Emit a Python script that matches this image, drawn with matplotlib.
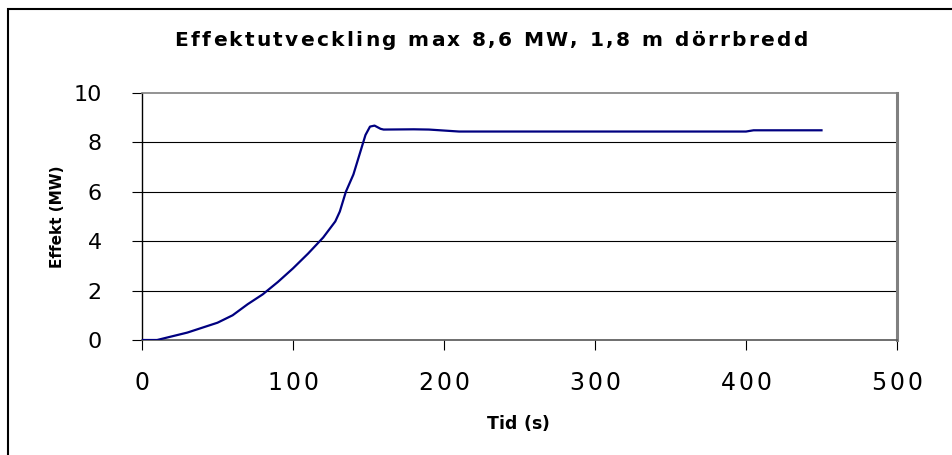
import matplotlib
matplotlib.use("Agg")
import matplotlib.pyplot as plt
from matplotlib.patches import Rectangle
from matplotlib import font_manager
from matplotlib.ft2font import FT2Font

tid = [0, 10, 20, 30, 40, 50, 60, 70, 80, 90, 100, 110, 120, 128, 131, 135,
       140, 145, 148, 151, 154, 158, 160, 180, 190, 210, 400, 405, 450]
effekt = [0, 0, 0.15, 0.3, 0.5, 0.7, 1.0, 1.45, 1.85, 2.35, 2.9, 3.5, 4.15,
          4.8, 5.2, 6.0, 6.7, 7.7, 8.3, 8.64, 8.68, 8.55, 8.52, 8.53, 8.52,
          8.44, 8.44, 8.49, 8.49]
xticks = [0, 100, 200, 300, 400, 500]
yticks = [0, 2, 4, 6, 8, 10]

title = "Effektutveckling max 8,6 MW, 1,8 m dörrbredd"
xlabel = "Tid (s)"
ylabel = "Effekt (MW)"

W, H = 953, 455
DPI = 100
FAMILY = "DejaVu Sans"
fig = plt.figure(figsize=(W / DPI, H / DPI), dpi=DPI)
fig.patch.set_facecolor("white")


def advances(s, size, weight):
    path = font_manager.findfont(font_manager.FontProperties(family=FAMILY, weight=weight))
    f = FT2Font(path)
    f.set_size(size, DPI)
    return [f.load_char(ord(c)).linearHoriAdvance / 65536.0 for c in s]


def spaced_text(xc, y, s, size, weight, spacing=None, width=None):
    """Draw text centred at pixel (xc, y from top) with extra letter spacing."""
    adv = advances(s, size, weight)
    if width is not None:
        spacing = (width - sum(adv)) / (len(s) - 1)
    total = sum(adv) + spacing * (len(s) - 1)
    x = xc - total / 2
    for c, a in zip(s, adv):
        if c != " ":
            fig.text(x / W, 1 - y / H, c, ha="left", va="center",
                     fontsize=size, fontweight=weight, family=FAMILY)
        x += a + spacing


# outer chart frame (only left and top edges visible)
fig.patches.append(Rectangle((8 / W, -0.2), 1.2, 1 - 9 / H + 0.2,
                             transform=fig.transFigure, fill=False,
                             edgecolor="black", linewidth=1.5, clip_on=False))

L, R, T, B = 142, 897, 93, 340
ax = fig.add_axes([L / W, 1 - B / H, (R - L) / W, (B - T) / H])
ax.plot(tid, effekt, color="#000080", linewidth=1.6, zorder=3)

ax.set_xlim(0, 500)
ax.set_ylim(0, 10)
ax.set_xticks(xticks)
ax.set_yticks(yticks)
ax.set_xticklabels([""] * len(xticks))
ax.set_yticklabels([str(v) for v in yticks])

for v in yticks[1:-1]:
    ax.axhline(v, color="black", linewidth=0.8, zorder=1)

ax.spines["left"].set_color("black")
ax.spines["left"].set_linewidth(1.0)
ax.spines["bottom"].set_color("#555555")
ax.spines["bottom"].set_linewidth(1.2)
ax.spines["top"].set_color("#808080")
ax.spines["top"].set_linewidth(1.2)
ax.spines["right"].set_color("#808080")
ax.spines["right"].set_linewidth(2.2)

ax.tick_params(axis="y", direction="out", length=7, width=0.8, pad=22,
               labelsize=16, colors="black")
ax.tick_params(axis="x", direction="out", length=7, width=0.8, colors="black")
for lab in ax.get_yticklabels():
    lab.set_fontfamily(FAMILY)

# x tick labels, letter-spaced, placed at the data positions
for v in xticks:
    xp = L + (v - 0) / (500 - 0) * (R - L)
    spaced_text(xp, 383, str(v), 17, "normal", spacing=3)

# title and axis labels
spaced_text(491, 40, title, 14.5, "bold", width=633)
spaced_text(518, 424, xlabel, 12.5, "bold", width=63)
fig.text(58 / W, 1 - 217 / H, ylabel, ha="center", va="center",
         rotation=90, fontsize=11, fontweight="bold", family=FAMILY)

fig.savefig("out.png", dpi=DPI)
